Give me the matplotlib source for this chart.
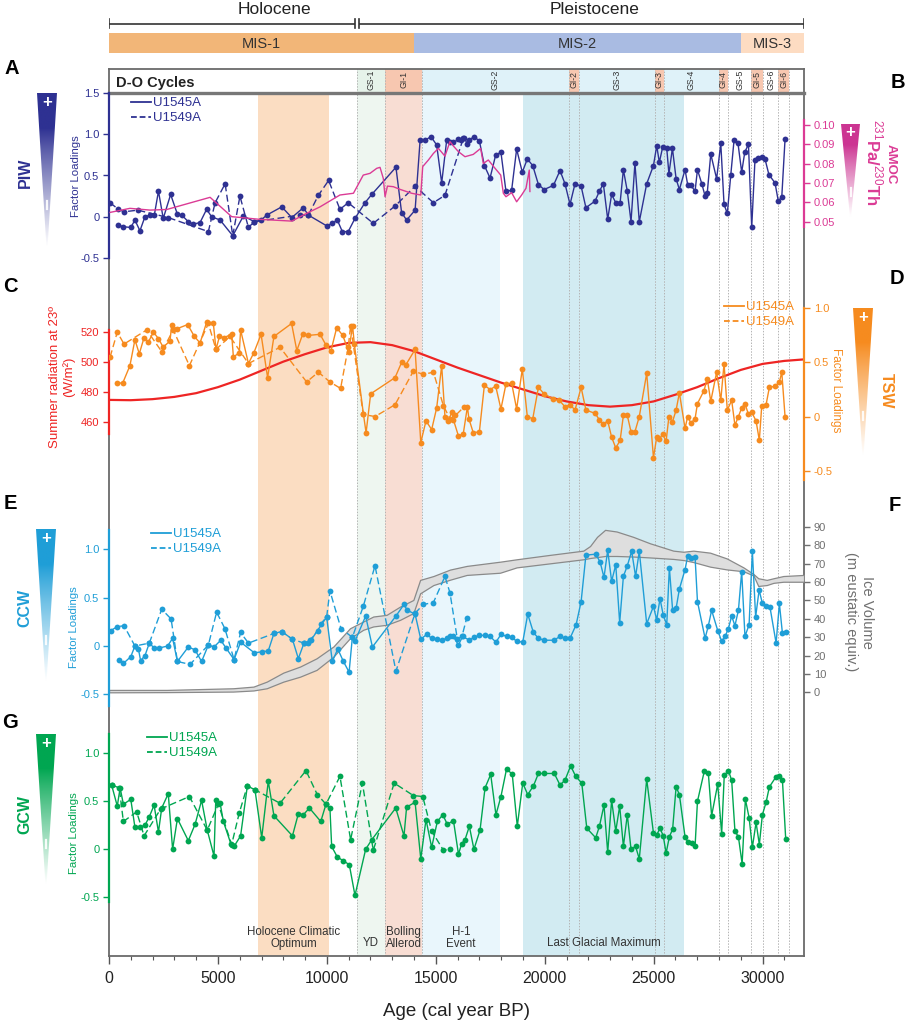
import numpy as np
import matplotlib
matplotlib.use('Agg')
import matplotlib.pyplot as plt
from matplotlib.lines import Line2D
from matplotlib.patches import Polygon
from matplotlib.colors import to_rgb

plt.rcParams['font.family'] = ['Liberation Sans', 'DejaVu Sans']
plt.rcParams['mathtext.fontset'] = 'custom'
plt.rcParams['mathtext.rm'] = 'Liberation Sans'
plt.rcParams['mathtext.bf'] = 'Liberation Sans:bold'

# ---------------- data (age in cal yr BP) ----------------
epoch_names = ['Holocene', 'Pleistocene']
epoch_start = [0, 11400]
epoch_end = [11400, 31900]
epoch_label_x = [7600, 22300]

mis_names = ['MIS-1', 'MIS-2', 'MIS-3']
mis_start = [0, 14000, 29000]
mis_end = [14000, 29000, 31900]
mis_colors = ['#f2b678', '#a9bbe2', '#fddcc2']

do_names = ['GS-1', 'GI-1', 'GS-2', 'GI-2', 'GS-3', 'GI-3', 'GS-4', 'GI-4', 'GS-5', 'GI-5', 'GS-6', 'GI-6']
do_start = [11380, 12670, 14370, 21110, 21570, 25060, 25470, 28000, 28410, 29470, 30020, 30710]
do_end = [12670, 14370, 21110, 21570, 25060, 25470, 28000, 28410, 29470, 30020, 30710, 31210]

event_names = ['Holocene Climatic\nOptimum', 'YD', 'Bolling\nAllerod', 'H-1\nEvent', 'Last Glacial Maximum']
event_start = [6840, 11380, 12670, 14370, 19000]
event_end = [10100, 12670, 14370, 17950, 26400]
event_colors = ['#fbddc2', '#eef6f0', '#f8ddd3', '#e9f6fc', '#d2ebf2']

# Panel A: PIW factor loadings
piw_1545 = [(430, -0.10), (630, -0.12), (1000, -0.13), (1190, -0.04), (1420, -0.17), (1650, 0.00),
            (1880, 0.02), (2080, 0.02), (2270, 0.31), (2490, -0.02), (2830, 0.27), (3140, 0.03),
            (3340, 0.02), (3640, -0.06), (3870, -0.09), (4180, -0.07), (4480, 0.09), (4710, 0.00),
            (5100, -0.04), (5680, -0.23), (6170, 0.01), (6670, -0.06), (6980, -0.04), (7240, 0.02),
            (7930, 0.12), (8390, -0.01), (8920, 0.11), (9150, 0.02), (9990, -0.11), (10250, -0.08),
            (10480, -0.04), (10710, -0.18), (10980, -0.18), (11290, -0.02), (11750, 0.17), (12060, 0.27),
            (13170, 0.60), (13430, 0.05), (13660, -0.04), (14050, 0.08), (14280, 0.93), (14510, 0.93),
            (14780, 0.97), (15040, 0.87), (15270, 0.41), (15500, 0.93), (15650, 0.91), (15810, 0.90),
            (16040, 0.94), (16140, 0.93), (16300, 0.96), (16450, 0.88), (16540, 0.93), (16750, 0.97),
            (17000, 0.92), (17230, 0.62), (17490, 0.47), (17750, 0.75), (17990, 0.78), (18220, 0.31),
            (18480, 0.32), (18710, 0.82), (18970, 0.54), (19200, 0.70), (19450, 0.62), (19710, 0.39),
            (19970, 0.33), (20400, 0.38), (20700, 0.56), (20930, 0.40), (21160, 0.15), (21390, 0.40),
            (21670, 0.37), (21890, 0.11), (22310, 0.19), (22510, 0.31), (22690, 0.40), (22890, -0.03),
            (23070, 0.27), (23260, 0.17), (23460, 0.17), (23610, 0.57), (23790, 0.31), (23960, -0.06),
            (24140, 0.65), (24340, -0.06), (24680, 0.40), (24990, 0.62), (25140, 0.86), (25260, 0.66),
            (25410, 0.84), (25600, 0.83), (25700, 0.52), (25860, 0.83), (26030, 0.46), (26180, 0.33),
            (26440, 0.57), (26560, 0.39), (26710, 0.38), (26900, 0.31), (27010, 0.57), (27210, 0.40),
            (27360, 0.25), (27460, 0.29), (27620, 0.76), (27890, 0.46), (28080, 0.89), (28230, 0.15),
            (28380, 0.04), (28540, 0.51), (28690, 0.93), (28870, 0.89), (29040, 0.54), (29180, 0.78),
            (29350, 0.88), (29500, -0.13), (29650, 0.69), (29810, 0.71), (29960, 0.72), (30110, 0.70),
            (30290, 0.51), (30570, 0.41), (30720, 0.19), (30880, 0.24), (31030, 0.94)]
piw_1549 = [(50, 0.17), (430, 0.09), (690, 0.06), (1320, 0.08), (2720, -0.01), (4560, -0.18),
            (4870, 0.17), (5330, 0.40), (5680, -0.23), (6010, 0.25), (6400, -0.13), (6670, -0.06),
            (8770, 0.02), (9150, 0.02), (9610, 0.26), (10080, 0.44), (10600, 0.09), (10980, 0.17),
            (12130, -0.08), (13130, 0.13), (14050, 0.37), (14890, 0.17), (15420, 0.26), (16260, 0.95)]

# Panel B: AMOC 231Pa/230Th
amoc = [(50, 0.0548), (960, 0.0569), (1880, 0.0560), (2650, 0.0563), (4640, 0.0626), (5630, 0.0526),
        (6930, 0.0512), (8390, 0.0503), (9070, 0.0543), (9690, 0.0577), (10600, 0.0638), (11220, 0.0647),
        (11670, 0.0741), (11980, 0.0750), (12290, 0.0776), (12440, 0.0781), (12590, 0.0724), (12670, 0.0629),
        (12780, 0.0684), (13050, 0.0681), (13360, 0.0667), (13890, 0.0647), (14310, 0.0638), (14400, 0.0785),
        (14660, 0.0819), (14890, 0.0853), (15120, 0.0879), (15420, 0.0839), (15650, 0.0914), (15810, 0.0891),
        (16040, 0.0862), (16340, 0.0836), (16720, 0.0848), (17060, 0.0879), (17180, 0.0801), (17410, 0.0819),
        (17720, 0.0776), (17980, 0.0741), (18100, 0.0647), (18220, 0.0629), (18480, 0.0650), (18710, 0.0603),
        (18940, 0.0638), (19140, 0.0673), (19290, 0.0767), (19320, 0.0656)]

# Panel C: summer radiation at 23 deg (W/m2)
rad_age = [0, 1000, 2000, 3000, 4000, 5000, 6000, 7000, 8000, 9000, 10000, 11000, 12000, 13000, 14000,
           15000, 16000, 17000, 18000, 19000, 20000, 21000, 22000, 23000, 24000, 25000, 26000, 27000,
           28000, 29000, 30000, 31000, 31900]
rad_val = [474.5, 474.3, 475, 476.5, 479, 483, 488, 494, 500, 505, 509.5, 512.5, 513, 511, 507,
           501.5, 496, 491, 486, 481.5, 477, 473.5, 471, 470, 471, 473.5, 478, 483,
           489, 494.5, 498.5, 500.5, 501.5]

# Panel D: TSW factor loadings
tsw_1545 = [(380, 0.31), (630, 0.31), (960, 0.47), (1190, 0.71), (1390, 0.58), (1610, 0.73), (1810, 0.69),
            (2040, 0.78), (2270, 0.72), (2490, 0.64), (2800, 0.70), (2880, 0.85), (3100, 0.81), (3610, 0.85),
            (3920, 0.74), (4180, 0.68), (4480, 0.87), (4790, 0.86), (4910, 0.62), (5070, 0.74), (5280, 0.73),
            (5630, 0.76), (5710, 0.55), (5980, 0.59), (6040, 0.80), (6400, 0.49), (6650, 0.59), (6980, 0.76),
            (7280, 0.36), (7570, 0.74), (8380, 0.86), (8620, 0.61), (8890, 0.76), (9150, 0.75), (9690, 0.76),
            (9960, 0.66), (10190, 0.61), (10450, 0.82), (10730, 0.75), (11000, 0.60), (11180, 0.84),
            (11260, 0.67), (11680, 0.02), (11800, -0.15), (12010, 0.21), (13130, 0.36), (13430, 0.50),
            (13630, 0.48), (14050, 0.62), (14310, -0.24), (14550, -0.04), (14810, -0.12), (15040, 0.08),
            (15270, 0.47), (15420, 0.0), (15580, -0.04), (15730, 0.04), (15810, -0.03), (16040, -0.18),
            (16260, -0.16), (16450, 0.09), (16520, -0.02), (16720, -0.15), (17000, -0.14), (17230, 0.29),
            (17490, 0.25), (17750, 0.28), (17990, 0.07), (18220, 0.30), (18480, 0.31), (18710, 0.07),
            (18970, 0.44), (19200, 0.0), (19450, -0.02), (19710, 0.27), (19970, 0.21), (20400, 0.16),
            (20670, 0.15), (20930, 0.09), (21160, 0.11), (21390, 0.06), (21670, 0.27), (21890, 0.06),
            (22310, 0.03), (22510, -0.03), (22690, -0.07), (22890, -0.04), (23070, -0.19), (23260, -0.29),
            (23460, -0.22), (23610, 0.01), (23790, 0.01), (23960, -0.14), (24140, -0.14), (24340, 0.0),
            (24680, 0.40), (24990, -0.38), (25140, -0.19), (25260, -0.21), (25410, -0.16), (25570, -0.23),
            (25700, 0.0), (25860, -0.05), (26030, 0.06), (26180, 0.22), (26440, -0.11), (26560, 0.0),
            (26710, -0.06), (26900, -0.02), (27010, 0.12), (27310, 0.24), (27460, 0.35), (27620, 0.14),
            (27890, 0.41), (28080, 0.15), (28230, 0.49), (28380, 0.06), (28580, 0.15), (28730, -0.08),
            (28890, 0.0), (29040, 0.08), (29190, 0.12), (29350, 0.02), (29500, 0.04), (29700, -0.04),
            (29850, -0.22), (29960, 0.10), (30160, 0.11), (30310, 0.27), (30570, 0.28), (30770, 0.32),
            (30880, 0.41), (31030, 0.0)]
tsw_1549 = [(50, 0.55), (380, 0.78), (690, 0.67), (1730, 0.80), (2420, 0.60), (2950, 0.80), (3690, 0.47),
            (4560, 0.86), (4910, 0.62), (5550, 0.74), (6400, 0.49), (7850, 0.64), (9070, 0.32), (9610, 0.41),
            (10140, 0.32), (10630, 0.26), (10980, 0.64), (11090, 0.84), (11670, 0.02), (12210, 0.0),
            (13130, 0.11), (13970, 0.42), (14430, 0.39), (14890, 0.41), (15350, 0.10), (15650, -0.02),
            (15900, 0.01), (16300, 0.09)]

# Panel E: CCW factor loadings
ccw_1545 = [(470, -0.14), (660, -0.18), (1000, -0.11), (1190, 0.0), (1350, -0.03), (1450, -0.15),
            (1650, -0.10), (1850, 0.03), (2070, -0.02), (2310, -0.02), (2690, 0.0), (2920, 0.08),
            (3140, -0.16), (3640, -0.01), (3950, -0.04), (4250, -0.16), (4560, 0.01), (4820, -0.01),
            (5130, 0.06), (5370, -0.02), (5740, -0.14), (6040, 0.04), (6670, -0.07), (7010, -0.06),
            (7310, -0.05), (7570, 0.13), (7930, 0.15), (8420, 0.07), (8690, -0.13), (8950, 0.03),
            (9150, 0.03), (9270, 0.06), (9990, 0.30), (10250, -0.16), (10500, -0.03), (10760, -0.16),
            (11020, -0.27), (11170, 0.09), (11290, 0.05), (11780, 0.31), (12090, -0.01), (13170, 0.31),
            (13540, 0.43), (13690, 0.37), (14050, 0.33), (14310, 0.07), (14580, 0.12), (14810, 0.08),
            (15040, 0.07), (15300, 0.06), (15500, 0.08), (15650, 0.10), (15810, 0.10), (16040, 0.01),
            (16230, 0.10), (16540, 0.06), (16750, 0.09), (17000, 0.11), (17260, 0.11), (17490, 0.10),
            (17760, 0.04), (17990, 0.12), (18250, 0.10), (18480, 0.09), (18710, 0.05), (18990, 0.04),
            (19220, 0.33), (19480, 0.14), (19710, 0.08), (19970, 0.06), (20430, 0.06), (20700, 0.10),
            (20930, 0.08), (21160, 0.08), (21440, 0.22), (21670, 0.46), (21890, 0.94), (22340, 0.95),
            (22540, 0.87), (22720, 0.71), (22890, 0.99), (23070, 0.67), (23260, 0.84), (23440, 0.24),
            (23610, 0.72), (23790, 0.83), (23990, 0.98), (24170, 0.72), (24340, 0.98), (24680, 0.23),
            (24990, 0.41), (25140, 0.27), (25290, 0.49), (25440, 0.32), (25600, 0.22), (25720, 0.81),
            (25870, 0.37), (26030, 0.39), (26180, 0.59), (26440, 0.79), (26560, 0.93), (26710, 0.91),
            (26900, 0.92), (27010, 0.46), (27360, 0.08), (27510, 0.21), (27660, 0.37), (27940, 0.16),
            (28120, 0.05), (28280, 0.10), (28430, 0.18), (28580, 0.31), (28730, 0.21), (28890, 0.37),
            (29040, 0.77), (29190, 0.10), (29380, 0.22), (29530, 0.98), (29680, 0.30), (29840, 0.58),
            (29990, 0.44), (30140, 0.41), (30340, 0.40), (30620, 0.03), (30770, 0.44), (30910, 0.13),
            (31060, 0.14)]
ccw_1549 = [(80, 0.16), (380, 0.20), (690, 0.21), (1190, 0.0), (1850, 0.03), (2420, 0.38), (2850, 0.28),
            (3140, -0.16), (3720, -0.19), (4560, 0.01), (4940, 0.35), (5320, 0.18), (5740, -0.14),
            (6040, 0.14), (6400, 0.03), (7570, 0.13), (7930, 0.15), (8420, 0.07), (8950, 0.03), (9230, 0.06),
            (9580, 0.16), (9720, 0.23), (9990, 0.30), (10140, 0.57), (10650, 0.18), (11170, 0.09),
            (11670, 0.41), (12210, 0.83), (13170, -0.26), (14050, 0.34), (14430, 0.43), (14890, 0.45),
            (15420, 0.72), (15650, 0.55), (15990, 0.07), (16200, 0.10), (16420, 0.29)]

# Panel F: ice volume envelope (age, lower, upper) in m eustatic equiv.
ice_band = [(0, 0.0, 1.3), (2650, 0.1, 1.3), (5700, 0.4, 2.2), (6630, 1.0, 3.1), (7240, 2.2, 5.8),
            (8000, 5.8, 10.7), (8770, 8.5, 14.0), (9530, 12.2, 18.5), (10300, 19.4, 24.9),
            (11060, 29.4, 34.8), (11670, 34.0, 38.5), (12130, 35.8, 41.2), (12740, 36.7, 42.1),
            (13360, 39.4, 46.6), (13970, 43.1, 50.2), (14280, 53.8, 61.1), (14890, 58.3, 63.2),
            (15650, 61.2, 66.7), (16420, 63.8, 68.7), (17950, 65.0, 71.0), (18710, 67.9, 72.3),
            (20240, 70.1, 74.7), (21770, 72.3, 77.0), (22080, 73.0, 79.5), (22400, 73.5, 84.5),
            (22770, 74.1, 88.3), (23300, 74.1, 87.4), (24060, 73.8, 84.5), (24830, 73.3, 81.0),
            (25900, 72.5, 77.0), (26360, 71.9, 76.4), (26820, 70.8, 77.0), (27590, 68.3, 75.9),
            (28350, 66.8, 72.8), (29120, 65.8, 67.9), (29580, 63.5, 64.3), (29800, 57.8, 62.0),
            (30190, 58.3, 61.1), (30500, 59.5, 62.0), (30950, 60.1, 63.2), (31900, 60.1, 63.8)]

# Panel G: GCW factor loadings
gcw_1545 = [(120, 0.67), (380, 0.45), (510, 0.64), (660, 0.47), (1000, 0.52), (1190, 0.23), (1420, 0.23),
            (1650, 0.25), (1850, 0.34), (2070, 0.46), (2270, 0.18), (2420, 0.43), (2720, 0.58), (2920, 0.0),
            (3140, 0.32), (3640, 0.09), (3950, 0.26), (4250, 0.51), (4510, 0.20), (4820, -0.07), (4900, 0.51),
            (5100, 0.48), (5250, 0.29), (5590, 0.06), (5740, 0.03), (6040, 0.14), (6350, 0.66), (6700, 0.62),
            (7010, 0.12), (7310, 0.71), (7570, 0.35), (8420, 0.14), (8690, 0.37), (8920, 0.36), (9200, 0.43),
            (9720, 0.29), (9960, 0.47), (10140, 0.43), (10220, 0.03), (10480, -0.08), (10760, -0.12),
            (11030, -0.16), (11290, -0.48), (11780, 0.0), (12060, 0.10), (13160, 0.43), (13540, 0.14),
            (13660, 0.44), (14050, 0.49), (14310, -0.10), (14550, 0.31), (14810, 0.02), (15070, 0.29),
            (15320, 0.36), (15530, 0.26), (15810, 0.30), (16040, -0.05), (16190, 0.06), (16340, 0.10),
            (16540, 0.24), (16750, 0.0), (17030, 0.20), (17260, 0.64), (17520, 0.78), (17760, 0.36),
            (17990, 0.55), (18250, 0.84), (18510, 0.78), (18740, 0.24), (18990, 0.69), (19220, 0.57),
            (19480, 0.66), (19710, 0.79), (19970, 0.79), (20440, 0.79), (20700, 0.67), (20930, 0.72),
            (21190, 0.87), (21420, 0.76), (21700, 0.69), (21930, 0.22), (22340, 0.12), (22510, 0.24),
            (22720, 0.46), (22890, -0.03), (23070, 0.51), (23260, 0.19), (23440, 0.45), (23610, 0.03),
            (23790, 0.36), (23960, 0.0), (24170, 0.03), (24340, -0.10), (24680, 0.73), (24990, 0.17),
            (25140, 0.15), (25290, 0.22), (25440, 0.14), (25570, -0.04), (25720, 0.13), (25870, 0.21),
            (26030, 0.65), (26180, 0.57), (26440, 0.13), (26560, 0.08), (26740, 0.07), (26900, 0.03),
            (27010, 0.50), (27330, 0.82), (27510, 0.79), (27660, 0.35), (27940, 0.68), (28120, 0.16),
            (28240, 0.77), (28430, 0.82), (28580, 0.72), (28730, 0.19), (28890, 0.13), (29060, -0.15),
            (29210, 0.52), (29380, 0.33), (29530, 0.02), (29700, 0.28), (29850, 0.05), (29990, 0.36),
            (30160, 0.49), (30310, 0.65), (30600, 0.75), (30770, 0.76), (30910, 0.72), (31060, 0.11)]
gcw_1549 = [(120, 0.67), (470, 0.64), (660, 0.29), (1270, 0.39), (1610, 0.14), (2370, 0.42), (3690, 0.55),
            (4510, 0.20), (5020, 0.47), (5630, 0.05), (5980, 0.38), (6350, 0.66), (6700, 0.62), (7850, 0.48),
            (9040, 0.82), (9560, 0.57), (9960, 0.47), (10600, 0.76), (11090, 0.10), (11630, 0.69),
            (12130, -0.01), (13090, 0.69), (13970, 0.56), (14400, 0.55), (14810, 0.19), (15350, -0.01),
            (15650, 0.0)]

# ---------------- layout helpers (pixel based) ----------------
W, H = 906, 1021
X0, X1 = 109, 804
AGE_MAX = 31900
FRAME = '#6a6a6a'

NAVY = '#2e3192'
PINK = '#db3b95'
RED = '#ee2524'
ORANGE = '#f68b1f'
CYAN = '#1f9ed7'
GREEN = '#00a651'
GREY_T = '#707070'

fig = plt.figure(figsize=(W / 100, H / 100), dpi=100)


def box(top, bottom, left=X0, right=X1):
    return [left / W, 1 - bottom / H, (right - left) / W, (bottom - top) / H]


def ftext(x, y, s, **kw):
    kw.setdefault('ha', 'center')
    kw.setdefault('va', 'center')
    return fig.text(x / W, 1 - y / H, s, **kw)


def panel(top, bottom, ylim, side, color, ticks, labels, bounds, z):
    ax = fig.add_axes(box(top, bottom), zorder=z)
    ax.patch.set_alpha(0)
    ax.set_xlim(0, AGE_MAX)
    ax.set_ylim(*ylim)
    for s in ax.spines.values():
        s.set_visible(False)
    sp = ax.spines[side]
    sp.set_visible(True)
    sp.set_color(color)
    sp.set_linewidth(1.6)
    if bounds is not None:
        sp.set_bounds(*bounds)
    ax.set_xticks([])
    ax.yaxis.set_ticks_position(side)
    ax.set_yticks(ticks)
    ax.set_yticklabels(labels)
    ax.tick_params(axis='y', colors=color, labelsize=8, length=4, width=1, pad=3)
    return ax


def series(ax, pts, color, dashed=False):
    a = np.array(pts)
    ls = (0, (5, 2.5)) if dashed else '-'
    ax.plot(a[:, 0], a[:, 1], color=color, lw=1.0, ls=ls, marker='o', ms=4.2, mew=0, zorder=3)


def legend(ax, color, x, y):
    h = [Line2D([], [], color=color, lw=1.3),
         Line2D([], [], color=color, lw=1.3, ls=(0, (3.2, 1.6)))]
    ax.legend(h, ['U1545A', 'U1549A'], loc='upper left', bbox_to_anchor=(x / W, 1 - y / H),
              bbox_transform=fig.transFigure, frameon=False, fontsize=9.5, handlelength=1.5,
              handletextpad=0.15, labelspacing=0.22, borderpad=0, borderaxespad=0, labelcolor=color)


boundaries = sorted(set(do_start) | set(do_end))

# ---------------- background with event bands ----------------
bg = fig.add_axes(box(93, 956), zorder=0)
bg.set_xlim(0, AGE_MAX)
bg.set_ylim(0, 1)
for s, e, c in zip(event_start, event_end, event_colors):
    bg.axvspan(s, e, color=c, lw=0)
for b in boundaries:
    bg.axvline(b, color='#b4b4b4', lw=0.7, ls=(0, (1.5, 1.5)))
for name, s, e in zip(event_names, event_start, event_end):
    yy = 0.021 if '\n' in name else 0.015
    bg.text((s + e) / 2, yy, name, ha='center', va='center', fontsize=8.3, color='#333333',
            linespacing=1.0)
bg.set_yticks([])
bg.spines['top'].set_visible(False)
for k in ['left', 'right', 'bottom']:
    bg.spines[k].set_color(FRAME)
    bg.spines[k].set_linewidth(1.3)
bg.set_xticks(range(0, 30001, 5000))
bg.set_xticks(range(0, 31001, 1000), minor=True)
bg.tick_params(axis='x', which='major', length=6, width=1, color='#555555', labelsize=11.5,
               pad=5, labelcolor='#222222')
bg.tick_params(axis='x', which='minor', length=3, width=0.8, color='#555555')
bg.set_xlabel('Age (cal year BP)', fontsize=13.5, labelpad=12, color='#222222')

# ---------------- D-O cycles header ----------------
hd = fig.add_axes(box(69, 93), zorder=0)
hd.set_xlim(0, AGE_MAX)
hd.set_ylim(0, 1)
hd.set_xticks([])
hd.set_yticks([])
for name, s, e in zip(do_names, do_start, do_end):
    if name.startswith('GI'):
        c = '#f7c7b0'
    elif name == 'GS-1':
        c = '#e6f3ea'
    elif name in ('GS-2', 'GS-3', 'GS-4'):
        c = '#dff2f9'
    else:
        c = 'white'
    hd.axvspan(s, e, color=c, lw=0)
    hd.text((s + e) / 2, 0.55, name, rotation=90, ha='center', va='center', fontsize=6.3,
            color='#333333')
for b in boundaries:
    hd.axvline(b, color='#b4b4b4', lw=0.7, ls=(0, (1.5, 1.5)))
hd.text(0.01, 0.42, 'D-O Cycles', transform=hd.transAxes, ha='left', va='center', fontsize=10.5,
        fontweight='bold', color='#222222')
for k in ['left', 'right', 'top']:
    hd.spines[k].set_color(FRAME)
    hd.spines[k].set_linewidth(1.3)
hd.spines['bottom'].set_color('#777777')
hd.spines['bottom'].set_linewidth(2.4)

# ---------------- MIS bar and epoch bracket ----------------
mis = fig.add_axes(box(33, 53), zorder=0)
mis.set_xlim(0, AGE_MAX)
mis.set_ylim(0, 1)
mis.axis('off')
mis.barh(0.5, [e - s for s, e in zip(mis_start, mis_end)], left=mis_start, height=1,
         color=mis_colors, lw=0)
for name, s, e in zip(mis_names, mis_start, mis_end):
    mis.text((s + e) / 2, 0.47, name, ha='center', va='center', fontsize=10.5, color='#333333')

ep = fig.add_axes(box(0, 33), zorder=0)
ep.set_xlim(0, AGE_MAX)
ep.set_ylim(33, 0)
ep.axis('off')
for name, s, e, lx in zip(epoch_names, epoch_start, epoch_end, epoch_label_x):
    s2 = s + (90 if s > 0 else 0)
    e2 = e - (90 if e < AGE_MAX else 0)
    ep.plot([s2, e2], [24, 24], color='#333333', lw=1.2, solid_capstyle='butt')
    ep.plot([s2, s2], [19.5, 28.5], color='#333333', lw=1.2)
    ep.plot([e2, e2], [19.5, 28.5], color='#333333', lw=1.2)
    ep.text(lx, 10, name, ha='center', va='center', fontsize=12.5, color='#222222')

# ---------------- panels ----------------
loading_ticks = [-0.5, 0, 0.5, 1.0]
loading_labels = ['-0.5', '0', '0.5', '1.0']

axA = panel(93, 258, (-0.5, 1.5), 'left', NAVY, [-0.5, 0, 0.5, 1.0, 1.5],
            ['-0.5', '0', '0.5', '1.0', '1.5'], (-0.5, 1.5), 2)
axB = panel(93, 258, (0.03122, 0.11655), 'right', PINK, [0.05, 0.06, 0.07, 0.08, 0.09, 0.10],
            ['0.05', '0.06', '0.07', '0.08', '0.09', '0.10'], (0.047, 0.1026), 2)
a = np.array(amoc)
axB.plot(a[:, 0], a[:, 1], color=PINK, lw=1.0, zorder=2)
series(axA, piw_1549, NAVY, dashed=True)
series(axA, piw_1545, NAVY)
legend(axA, NAVY, 131, 97)

axC = panel(258, 480, (421.1, 569.1), 'left', RED, [460, 480, 500, 520],
            ['460', '480', '500', '520'], (452, 521), 2)
axD = panel(258, 480, (-0.586, 1.465), 'right', ORANGE, loading_ticks, loading_labels,
            (-0.586, 1.0), 2)
series(axD, tsw_1549, ORANGE, dashed=True)
series(axD, tsw_1545, ORANGE)
axC.plot(rad_age, rad_val, color=RED, lw=1.6, zorder=4)
legend(axD, ORANGE, 724, 301)

axF = panel(480, 720, (-15.05, 115.4), 'right', GREY_T, list(range(0, 91, 10)),
            [str(v) for v in range(0, 91, 10)], None, 1)
axF.spines['right'].set_visible(False)
ib = np.array(ice_band)
axF.fill_between(ib[:, 0], ib[:, 1], ib[:, 2], facecolor='#dedede', edgecolor='#8a8a8a', lw=0.9)
axE = panel(480, 720, (-0.765, 1.717), 'left', CYAN, loading_ticks, loading_labels,
            (-0.62, 1.2), 2)
series(axE, ccw_1549, CYAN, dashed=True)
series(axE, ccw_1545, CYAN)
legend(axE, CYAN, 151, 528)

axG = panel(720, 956, (-1.111, 1.347), 'left', GREEN, loading_ticks, loading_labels,
            (-0.55, 1.2), 2)
series(axG, gcw_1549, GREEN, dashed=True)
series(axG, gcw_1545, GREEN)
legend(axG, GREEN, 147, 732)

# ---------------- axis titles and panel letters ----------------
ftext(76, 176, 'Factor Loadings', rotation=90, fontsize=8.2, color=NAVY)
ftext(62, 377, 'Summer radiation at 23º\n(W/m²)', rotation=90, fontsize=9.5, color=RED,
      multialignment='center', linespacing=1.05)
ftext(836, 390, 'Factor Loadings', rotation=270, fontsize=8.5, color=ORANGE)
ftext(74, 627, 'Factor Loadings', rotation=90, fontsize=8.2, color=CYAN)
ftext(859, 612, 'Ice Volume\n(m eustatic equiv.)', rotation=270, fontsize=10.5, color=GREY_T,
      multialignment='center', linespacing=1.1)
ftext(74, 833, 'Factor Loadings', rotation=90, fontsize=8.2, color=GREEN)
ftext(891, 164, 'AMOC', rotation=270, fontsize=9.5, color=PINK, fontweight='bold')
ftext(874, 162, r'$^{231}$Pa/$^{230}$Th', rotation=270, fontsize=12, color=PINK, fontweight='bold')

ftext(25, 173, 'PIW', rotation=90, fontsize=11.5, color=NAVY, fontweight='bold')
ftext(886, 391, 'TSW', rotation=270, fontsize=11.5, color=ORANGE, fontweight='bold')
ftext(25, 608, 'CCW', rotation=90, fontsize=11.5, color=CYAN, fontweight='bold')
ftext(25, 814, 'GCW', rotation=90, fontsize=11.5, color=GREEN, fontweight='bold')

for letter, x, y in [('A', 12, 68), ('B', 898, 82), ('C', 10, 287), ('D', 897, 278),
                     ('E', 10, 503), ('F', 895, 505), ('G', 10, 722)]:
    ftext(x, y, letter, fontsize=14.5, fontweight='bold', color='black')

# ---------------- gradient wedges ----------------
deco = fig.add_axes([0, 0, 1, 1], zorder=5)
deco.axis('off')


def wedge(x0, x1, y0, y1, color):
    t = np.linspace(0, 1, 256)
    f = np.clip((t - 0.22) / 0.72, 0, 1) ** 0.9
    rgb = np.array(to_rgb(color))
    cols = rgb[None, :] * (1 - f[:, None]) + f[:, None]
    im = deco.imshow(cols[:, None, :], extent=(x0, x1, y1, y0), aspect='auto',
                     interpolation='bilinear', origin='upper')
    tri = Polygon([(x0, y0), (x1, y0), ((x0 + x1) / 2, y1)], closed=True,
                  transform=deco.transData, facecolor='none', edgecolor='none')
    deco.add_patch(tri)
    im.set_clip_path(tri)
    xc = (x0 + x1) / 2
    deco.text(xc, y0 + 9, '+', color='white', ha='center', va='center', fontsize=12,
              fontweight='bold')
    ym = y0 + 0.69 * (y1 - y0)
    deco.plot([xc, xc], [ym - 4, ym + 4], color='white', lw=1.6, alpha=0.9)


wedge(37, 57, 93, 256, NAVY)
wedge(841, 860, 124, 222, '#cc3592')
wedge(853, 873, 308, 464, ORANGE)
wedge(36, 56, 529, 690, CYAN)
wedge(36, 56, 734, 893, GREEN)
deco.set_xlim(0, W)
deco.set_ylim(H, 0)

fig.savefig('out.png', dpi=100)
